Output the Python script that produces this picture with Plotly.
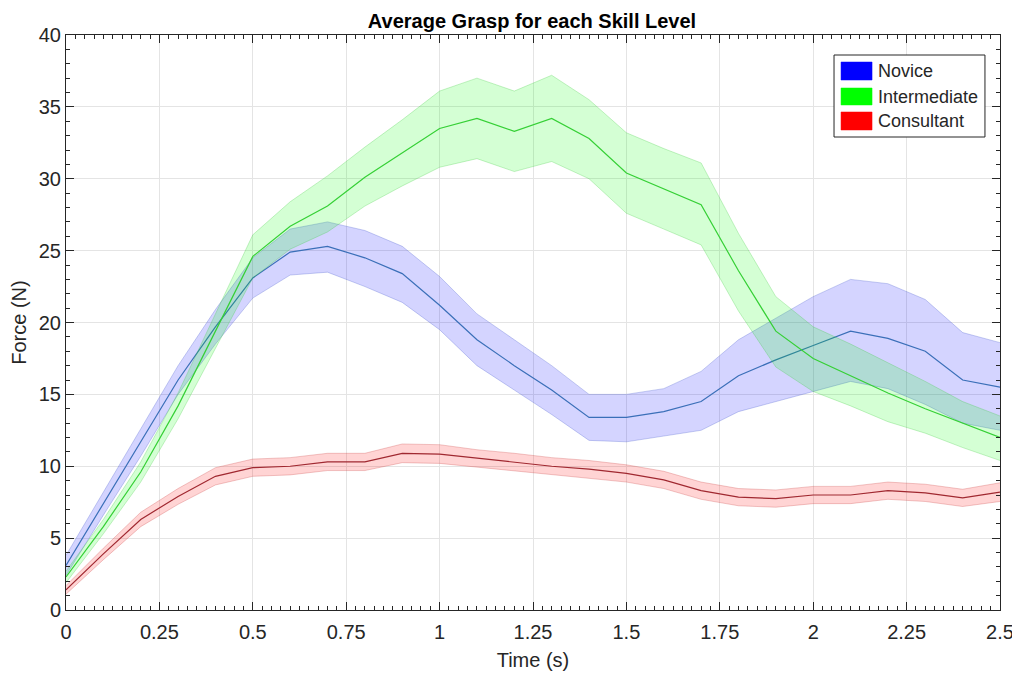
import plotly.graph_objects as go

t = [round(i * 0.1, 1) for i in range(26)]

novice_mean = [3.1, 7.4, 11.6, 16.0, 19.7, 23.1, 24.9, 25.3, 24.5, 23.4, 21.2, 18.8, 17.0,
               15.3, 13.4, 13.4, 13.8, 14.5, 16.3, 17.4, 18.4, 19.4, 18.9, 18.0, 16.0, 15.5]
novice_upper = [3.8, 8.2, 12.6, 17.0, 20.9, 24.5, 26.5, 27.0, 26.4, 25.3, 23.2, 20.6, 18.8,
                17.0, 15.0, 15.0, 15.4, 16.6, 18.8, 20.3, 21.8, 23.0, 22.7, 21.6, 19.3, 18.6]
novice_lower = [2.4, 6.6, 10.7, 15.0, 18.5, 21.7, 23.3, 23.5, 22.5, 21.4, 19.5, 17.0, 15.3,
                13.6, 11.8, 11.7, 12.1, 12.5, 13.8, 14.5, 15.2, 15.9, 15.4, 14.3, 13.0, 12.5]

inter_mean = [2.3, 5.8, 9.6, 14.2, 19.4, 24.6, 26.7, 28.1, 30.1, 31.8, 33.5, 34.2, 33.3,
              34.2, 32.8, 30.4, 29.3, 28.2, 23.6, 19.4, 17.5, 16.3, 15.1, 14.0, 13.0, 12.0]
inter_upper = [2.7, 6.3, 10.3, 15.1, 20.6, 26.1, 28.4, 30.2, 32.2, 34.1, 36.1, 37.0, 36.1,
               37.2, 35.5, 33.2, 32.1, 31.1, 26.2, 21.8, 19.7, 18.5, 17.2, 15.9, 14.5, 13.5]
inter_lower = [1.9, 5.3, 8.9, 13.3, 18.2, 23.1, 25.1, 26.3, 28.1, 29.5, 30.8, 31.4, 30.5,
               31.2, 30.0, 27.6, 26.5, 25.4, 20.8, 16.9, 15.2, 14.2, 13.1, 12.3, 11.3, 10.4]

cons_mean = [1.4, 3.9, 6.3, 7.9, 9.3, 9.9, 10.0, 10.3, 10.3, 10.9, 10.85, 10.55, 10.3,
             10.0, 9.8, 9.5, 9.05, 8.3, 7.85, 7.75, 8.0, 8.0, 8.3, 8.15, 7.8, 8.2]
cons_upper = [1.7, 4.3, 6.8, 8.45, 9.9, 10.5, 10.6, 10.9, 10.9, 11.55, 11.5, 11.15, 10.9,
              10.6, 10.4, 10.1, 9.65, 8.9, 8.45, 8.35, 8.6, 8.6, 8.9, 8.75, 8.4, 8.85]
cons_lower = [1.1, 3.5, 5.8, 7.35, 8.7, 9.3, 9.4, 9.7, 9.7, 10.25, 10.2, 9.95, 9.7,
              9.4, 9.2, 8.9, 8.45, 7.7, 7.25, 7.15, 7.4, 7.4, 7.7, 7.55, 7.2, 7.55]

names = ["Novice", "Intermediate", "Consultant"]
legend_colors = ["#0000FF", "#00FF00", "#FF0000"]

series = [
    (novice_mean, novice_upper, novice_lower, "rgba(0,0,255,0.17)", "rgba(60,80,200,0.35)", "#3A6FB8"),
    (inter_mean, inter_upper, inter_lower, "rgba(0,255,0,0.17)", "rgba(60,200,60,0.35)", "#35D035"),
    (cons_mean, cons_upper, cons_lower, "rgba(255,0,0,0.17)", "rgba(200,60,60,0.35)", "#A02830"),
]

fig = go.Figure()
for name, (mean, up, lo, fillc, edgec, linec) in zip(names, series):
    fig.add_trace(go.Scatter(x=t, y=lo, mode="lines", line=dict(color=edgec, width=0.8),
                             showlegend=False, hoverinfo="skip", legendgroup=name))
    fig.add_trace(go.Scatter(x=t, y=up, mode="lines", line=dict(color=edgec, width=0.8),
                             fill="tonexty", fillcolor=fillc, showlegend=False, hoverinfo="skip",
                             legendgroup=name))
    fig.add_trace(go.Scatter(x=t, y=mean, mode="lines", line=dict(color=linec, width=1.2),
                             name=name, showlegend=False, legendgroup=name))

font = "Liberation Sans, Arial, Helvetica, sans-serif"
dark = "#262626"
axis_common = dict(
    showgrid=True, gridcolor="#E4E4E4", gridwidth=1,
    showline=True, linecolor=dark, linewidth=1,
    mirror="allticks", ticks="inside", ticklen=8, tickcolor=dark,
    tickfont=dict(size=20, color=dark, family=font),
    zeroline=False, automargin=False,
)
fig.update_xaxes(range=[0, 2.5], tick0=0, dtick=0.25, tickformat="~g", ticklabelstandoff=4,
                 title=dict(text="Time (s)", font=dict(size=20, color=dark, family=font), standoff=10),
                 minor=dict(dtick=0.025, ticks="inside", ticklen=4, tickcolor=dark, showgrid=False),
                 **axis_common)
fig.update_yaxes(range=[0, 40], tick0=0, dtick=5,
                 title=dict(text="Force (N)", font=dict(size=20, color=dark, family=font), standoff=6),
                 minor=dict(dtick=1, ticks="inside", ticklen=4, tickcolor=dark, showgrid=False),
                 **axis_common)

# Legend box drawn in paper coordinates (plot area fractions)
box = dict(x0=0.8223, x1=0.9839, y0=0.8226, y1=0.9652)
swatch_x = (0.8298, 0.8630)
swatch_y = [(0.9217, 0.9530), (0.8783, 0.9078), (0.8348, 0.8661)]
text_y = [0.9374, 0.8930, 0.8504]
shapes = [dict(type="rect", xref="paper", yref="paper", x0=box["x0"], x1=box["x1"],
               y0=box["y0"], y1=box["y1"], fillcolor="white", line=dict(color=dark, width=1),
               layer="above")]
annotations = []
for name, col, (sy0, sy1), ty in zip(names, legend_colors, swatch_y, text_y):
    shapes.append(dict(type="rect", xref="paper", yref="paper", x0=swatch_x[0], x1=swatch_x[1],
                       y0=sy0, y1=sy1, fillcolor=col, line=dict(color=col, width=0.5), layer="above"))
    annotations.append(dict(text=name, xref="paper", yref="paper", x=0.8672, y=ty,
                            xanchor="left", yanchor="middle", showarrow=False,
                            font=dict(size=18, color=dark, family=font)))

fig.update_layout(
    width=1012, height=667,
    margin=dict(l=58, r=20, t=27, b=65),
    paper_bgcolor="white", plot_bgcolor="white",
    title=dict(text="<b>Average Grasp for each Skill Level</b>", x=524 / 1012, xanchor="center",
               y=1 - 13 / 667, yanchor="middle",
               font=dict(size=20, color="black", family=font)),
    shapes=shapes, annotations=annotations,
    showlegend=False,
)

fig.write_html("out.html")
